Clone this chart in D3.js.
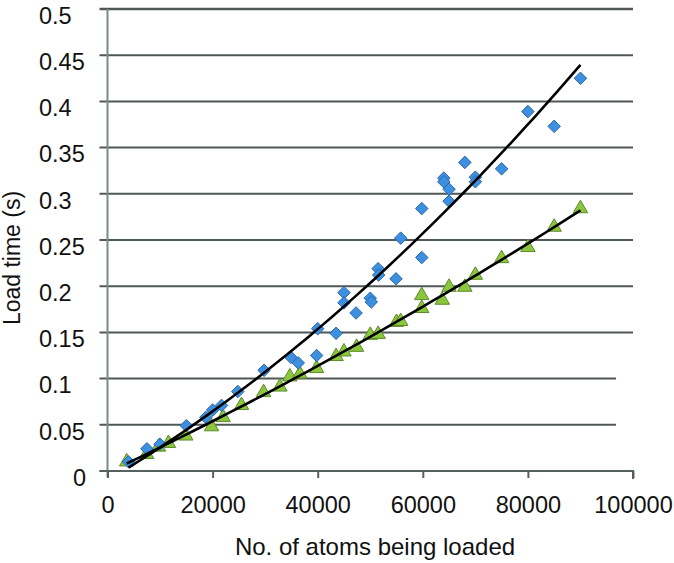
<!DOCTYPE html>
<html>
<head>
<meta charset="utf-8">
<script src="https://cdn.jsdelivr.net/npm/d3@7"></script>
<style>
  html, body { margin: 0; padding: 0; background: #fff; }
  svg { display: block; font-family: "Liberation Sans", Arial, sans-serif; }
</style>
</head>
<body>
<svg id="chart" width="674" height="563"></svg>
<script>
// Data: [atoms, load time in s]
const blueSeries = [
  [4000, 0.010], [7500, 0.024], [10000, 0.029], [15000, 0.049], [18700, 0.058],
  [20000, 0.066], [21700, 0.071], [24800, 0.086], [29800, 0.109], [34900, 0.123],
  [36300, 0.117], [39800, 0.125], [40000, 0.154], [43500, 0.149], [45000, 0.193],
  [45000, 0.182], [47300, 0.171], [50000, 0.187], [50200, 0.183], [51500, 0.219],
  [51600, 0.212], [54900, 0.208], [55800, 0.252], [59800, 0.284], [59800, 0.231],
  [64000, 0.317], [64000, 0.313], [65000, 0.305], [65000, 0.292], [68000, 0.334],
  [70000, 0.318], [70000, 0.313], [75000, 0.327], [80000, 0.389], [85000, 0.373],
  [90000, 0.425]
];
const greenSeries = [
  [3650, 0.010], [7450, 0.018], [9700, 0.026], [11600, 0.030], [14900, 0.038],
  [19800, 0.048], [22000, 0.058], [25500, 0.071], [29700, 0.085], [32800, 0.091],
  [34700, 0.102], [36600, 0.105], [39800, 0.111], [43500, 0.124], [45000, 0.129],
  [47400, 0.134], [50000, 0.147], [51500, 0.148], [55000, 0.161], [55800, 0.162],
  [59800, 0.176], [59800, 0.190], [63700, 0.185], [65000, 0.199], [68000, 0.199],
  [70000, 0.212], [75000, 0.230], [80000, 0.242], [85000, 0.264], [90000, 0.284]
];
const xTicks = [0, 20000, 40000, 60000, 80000, 100000];
const yTicks = [0, 0.05, 0.1, 0.15, 0.2, 0.25, 0.3, 0.35, 0.4, 0.45, 0.5];
const yLabels = ['0', '0.05', '0.1', '0.15', '0.2', '0.25', '0.3', '0.35', '0.4', '0.45', '0.5'];
const xTitle = 'No. of atoms being loaded';
const yTitle = 'Load time (s)';

const svg = d3.select('#chart');

// plot box in pixels
const plotLeft = 107.5, plotRight = 633, plotTop = 9, plotBottom = 471;

const x = d3.scaleLinear().domain([0, 100000]).range([plotLeft, plotRight]);
const y = d3.scaleLinear().domain([0, 0.5]).range([plotBottom, plotTop]);

// horizontal gridlines (the two lowest are a bit shorter in the original)
svg.append('g')
  .selectAll('line')
  .data(yTicks)
  .join('line')
  .attr('x1', plotLeft - 8)
  .attr('x2', d => d > 0 && d < 0.12 ? plotRight - 17 : plotRight)
  .attr('y1', d => y(d))
  .attr('y2', d => y(d))
  .attr('stroke', d => d === 0 ? '#6c7878' : '#4f5757')
  .attr('stroke-width', d => d === 0.5 ? 2.5 : 2);

// y axis labels
const yAxis = svg.append('g')
  .attr('transform', `translate(${plotLeft},0)`)
  .call(d3.axisLeft(y).tickValues(yTicks).tickSize(0)
    .tickFormat((d, i) => yLabels[i]));
yAxis.select('.domain').remove();
yAxis.selectAll('text')
  .attr('font-size', 23.5)
  .attr('font-family', '"Liberation Sans", Arial, sans-serif')
  .attr('fill', '#111')
  .attr('dy', '0.82em')
  .attr('y', -5)
  .attr('text-anchor', d => d === 0 ? 'end' : 'start')
  .attr('x', d => d === 0 ? 86 - plotLeft : 39 - plotLeft);

// y axis line
svg.append('line')
  .attr('x1', plotLeft).attr('x2', plotLeft)
  .attr('y1', y(0.5)).attr('y2', y(0) + 6)
  .attr('stroke', '#7a8a8a').attr('stroke-width', 2);

// x axis
const xAxis = svg.append('g')
  .attr('transform', `translate(0,${plotBottom})`)
  .call(d3.axisBottom(x).tickValues(xTicks).tickSize(7).tickPadding(18)
    .tickFormat(d3.format('d')));
xAxis.select('.domain')
  .attr('d', `M${plotLeft - 8},0H${plotRight}V8`)
  .attr('stroke', '#556060').attr('stroke-width', 2).attr('fill', 'none');
xAxis.selectAll('.tick line').attr('stroke', '#556060').attr('stroke-width', 2);
xAxis.selectAll('text')
  .attr('font-size', 23.5)
  .attr('font-family', '"Liberation Sans", Arial, sans-serif')
  .attr('fill', '#111');

// quadratic least-squares fit, same as a 2nd order trendline
function polyFit2(pts) {
  const s = 1e4;
  let S = [0, 0, 0, 0, 0], T = [0, 0, 0];
  pts.forEach(([px, py]) => {
    const u = px / s;
    for (let k = 0; k < 5; k++) S[k] += Math.pow(u, k);
    for (let k = 0; k < 3; k++) T[k] += py * Math.pow(u, k);
  });
  const A = [[S[0], S[1], S[2], T[0]], [S[1], S[2], S[3], T[1]], [S[2], S[3], S[4], T[2]]];
  for (let i = 0; i < 3; i++) {
    for (let j = i + 1; j < 3; j++) {
      const f = A[j][i] / A[i][i];
      for (let k = i; k < 4; k++) A[j][k] -= f * A[i][k];
    }
  }
  const c = [0, 0, 0];
  for (let i = 2; i >= 0; i--) {
    let v = A[i][3];
    for (let k = i + 1; k < 3; k++) v -= A[i][k] * c[k];
    c[i] = v / A[i][i];
  }
  return u => c[0] + c[1] * (u / s) + c[2] * (u / s) * (u / s);
}

const line = d3.line().x(d => x(d[0])).y(d => y(d[1]));

function trend(pts) {
  const f = polyFit2(pts);
  const [x0, x1] = d3.extent(pts, d => d[0]);
  const samples = d3.range(0, 41).map(i => x0 + (x1 - x0) * i / 40);
  return samples.map(v => [v, f(v)]);
}

// markers
const diamond = d3.symbol().type(d3.symbolDiamond2).size(100);
const triangle = d3.symbol().type(d3.symbolTriangle).size(90);

svg.append('g')
  .selectAll('path')
  .data(greenSeries)
  .join('path')
  .attr('d', triangle)
  .attr('transform', d => `translate(${x(d[0])},${y(d[1])})`)
  .attr('fill', '#8cc63e')
  .attr('stroke', '#5b8a2a')
  .attr('stroke-width', 1);

svg.append('g')
  .selectAll('path')
  .data(blueSeries)
  .join('path')
  .attr('d', diamond)
  .attr('transform', d => `translate(${x(d[0])},${y(d[1])})`)
  .attr('fill', '#3d8fe0')
  .attr('stroke', '#2a68a8')
  .attr('stroke-width', 1);

// trendlines
[blueSeries, greenSeries].forEach(s => {
  svg.append('path')
    .datum(trend(s))
    .attr('d', line)
    .attr('fill', 'none')
    .attr('stroke', '#000')
    .attr('stroke-width', 2.6);
});

// axis titles
svg.append('text')
  .attr('x', 375).attr('y', 555)
  .attr('text-anchor', 'middle')
  .attr('font-size', 24)
  .attr('fill', '#111')
  .text(xTitle);

svg.append('text')
  .attr('transform', 'translate(20,258) rotate(-90)')
  .attr('text-anchor', 'middle')
  .attr('font-size', 23)
  .attr('fill', '#111')
  .text(yTitle);
</script>
</body>
</html>
